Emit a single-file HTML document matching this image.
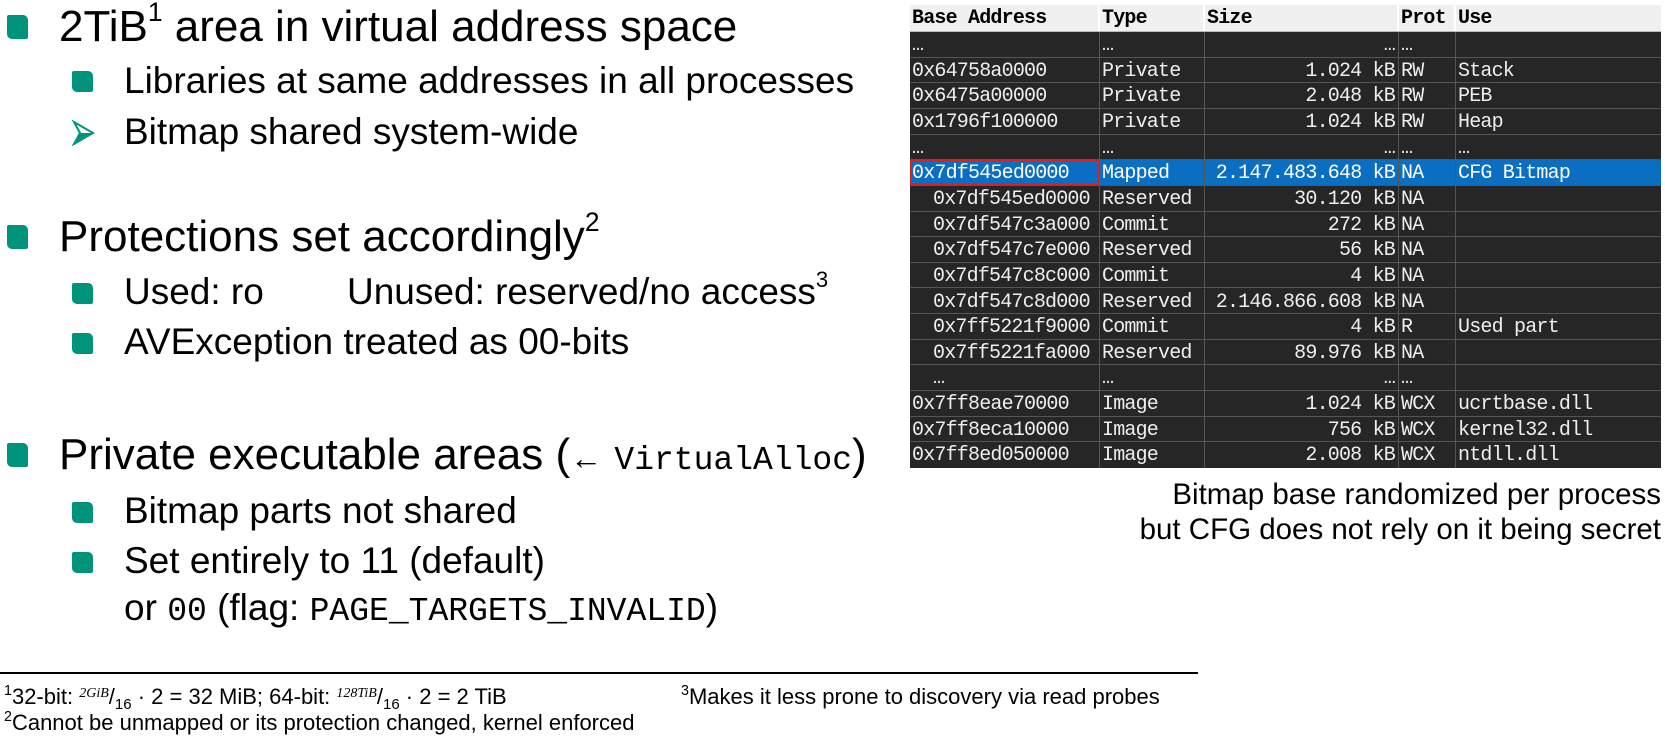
<!DOCTYPE html>
<html><head><meta charset="utf-8"><style>
body{margin:0;width:1665px;height:737px;background:#fff;position:relative;overflow:hidden;font-family:"Liberation Sans",Arial,sans-serif;color:#000}
.t{position:absolute;white-space:nowrap;line-height:1}
.m{font-size:44px}
.s{font-size:37px}
.b{position:absolute;background:#00937c;border-radius:2px 5px 2px 5px}
.mono{font-family:"Liberation Mono",monospace}
sup{font-size:60%;vertical-align:0;position:relative;top:-0.75em}
#tb{position:absolute;left:910px;top:5px;width:751px;height:463px;background:#262626}
.r{position:absolute;left:0;width:751px;height:25.65px;border-bottom:1px solid #555;box-sizing:border-box;font-family:"Liberation Mono",monospace;font-size:20px;letter-spacing:-0.8px;color:#eee;line-height:27px}
.r span{position:absolute;top:0;height:100%;box-sizing:border-box;border-right:1px solid #555;padding-left:2px;overflow:hidden;white-space:nowrap}
.c1{left:0;width:190px}.c2{left:190px;width:105px}.c3{left:295px;width:194px;text-align:right;padding-right:3px;padding-left:0!important}.c4{left:489px;width:57px}.c5{left:546px;width:205px;border-right:none!important}
.hd{background:#f0f0f0;color:#000;font-weight:bold;height:27px;top:0;border-bottom:1px solid #bbb}
.hd span{border-right:2px solid #fff}
.sel{background:#0a6fc2;color:#fff}
.i{padding-left:23px!important}
.fn{font-size:22px;position:absolute;white-space:nowrap;line-height:1}
.fn sup{font-size:65%;top:-0.6em}
</style></head><body>

<div class="b" style="left:7px;top:15px;width:21px;height:24px"></div>
<div class="t m" style="left:59px;top:5px">2TiB<sup>1</sup> area in virtual address space</div>
<div class="b" style="left:72px;top:71px;width:21px;height:21px"></div>
<div class="t s" style="left:124px;top:62px">Libraries at same addresses in all processes</div>
<svg style="position:absolute;left:72px;top:120px" width="24" height="26" viewBox="0 0 24 26"><path d="M2 2 L21 13 L2 24 L8 13 Z" fill="#fff" stroke="#00937c" stroke-width="2"/><path d="M8 13 L21 13 L2 24 Z" fill="#00937c"/></svg>
<div class="t s" style="left:124px;top:113px">Bitmap shared system-wide</div>

<div class="b" style="left:7px;top:225px;width:21px;height:24px"></div>
<div class="t m" style="left:59px;top:215px">Protections set accordingly<sup>2</sup></div>
<div class="b" style="left:72px;top:283px;width:21px;height:21px"></div>
<div class="t s" style="left:124px;top:273px">Used: ro</div>
<div class="t s" style="left:347px;top:273px">Unused: reserved/no access<sup>3</sup></div>
<div class="b" style="left:72px;top:333px;width:21px;height:21px"></div>
<div class="t s" style="left:124px;top:323px">AVException treated as 00-bits</div>

<div class="b" style="left:7px;top:443px;width:21px;height:24px"></div>
<div class="t m" style="left:59px;top:433px">Private executable areas (<span style="font-size:32px">←</span> <span class="mono" style="font-size:33px">VirtualAlloc</span>)</div>
<div class="b" style="left:72px;top:502px;width:21px;height:21px"></div>
<div class="t s" style="left:124px;top:492px">Bitmap parts not shared</div>
<div class="b" style="left:72px;top:552px;width:21px;height:21px"></div>
<div class="t s" style="left:124px;top:542px">Set entirely to 11 (default)</div>
<div class="t s" style="left:124px;top:589px">or <span class="mono" style="font-size:33px">00</span> (flag: <span class="mono" style="font-size:33px">PAGE_TARGETS_INVALID</span>)</div>

<div id="tb">
<div class="r hd"><span class="c1">Base Address</span><span class="c2">Type</span><span class="c3" style="text-align:left;padding-left:2px!important">Size</span><span class="c4">Prot</span><span class="c5">Use</span></div>
<div class="r" style="top:27px"><span class="c1">…</span><span class="c2">…</span><span class="c3">…</span><span class="c4">…</span><span class="c5"></span></div>
<div class="r" style="top:52.65px"><span class="c1">0x64758a0000</span><span class="c2">Private</span><span class="c3">1.024 kB</span><span class="c4">RW</span><span class="c5">Stack</span></div>
<div class="r" style="top:78.3px"><span class="c1">0x6475a00000</span><span class="c2">Private</span><span class="c3">2.048 kB</span><span class="c4">RW</span><span class="c5">PEB</span></div>
<div class="r" style="top:103.95px"><span class="c1">0x1796f100000</span><span class="c2">Private</span><span class="c3">1.024 kB</span><span class="c4">RW</span><span class="c5">Heap</span></div>
<div class="r" style="top:129.6px"><span class="c1">…</span><span class="c2">…</span><span class="c3">…</span><span class="c4">…</span><span class="c5">…</span></div>
<div class="r sel" style="top:155.25px"><span class="c1" style="outline:2px solid #e02020;outline-offset:-2px">0x7df545ed0000</span><span class="c2">Mapped</span><span class="c3">2.147.483.648 kB</span><span class="c4">NA</span><span class="c5">CFG Bitmap</span></div>
<div class="r" style="top:180.9px"><span class="c1 i">0x7df545ed0000</span><span class="c2">Reserved</span><span class="c3">30.120 kB</span><span class="c4">NA</span><span class="c5"></span></div>
<div class="r" style="top:206.55px"><span class="c1 i">0x7df547c3a000</span><span class="c2">Commit</span><span class="c3">272 kB</span><span class="c4">NA</span><span class="c5"></span></div>
<div class="r" style="top:232.2px"><span class="c1 i">0x7df547c7e000</span><span class="c2">Reserved</span><span class="c3">56 kB</span><span class="c4">NA</span><span class="c5"></span></div>
<div class="r" style="top:257.85px"><span class="c1 i">0x7df547c8c000</span><span class="c2">Commit</span><span class="c3">4 kB</span><span class="c4">NA</span><span class="c5"></span></div>
<div class="r" style="top:283.5px"><span class="c1 i">0x7df547c8d000</span><span class="c2">Reserved</span><span class="c3">2.146.866.608 kB</span><span class="c4">NA</span><span class="c5"></span></div>
<div class="r" style="top:309.15px"><span class="c1 i">0x7ff5221f9000</span><span class="c2">Commit</span><span class="c3">4 kB</span><span class="c4">R</span><span class="c5">Used part</span></div>
<div class="r" style="top:334.8px"><span class="c1 i">0x7ff5221fa000</span><span class="c2">Reserved</span><span class="c3">89.976 kB</span><span class="c4">NA</span><span class="c5"></span></div>
<div class="r" style="top:360.45px"><span class="c1 i">…</span><span class="c2">…</span><span class="c3">…</span><span class="c4">…</span><span class="c5"></span></div>
<div class="r" style="top:386.1px"><span class="c1">0x7ff8eae70000</span><span class="c2">Image</span><span class="c3">1.024 kB</span><span class="c4">WCX</span><span class="c5">ucrtbase.dll</span></div>
<div class="r" style="top:411.75px"><span class="c1">0x7ff8eca10000</span><span class="c2">Image</span><span class="c3">756 kB</span><span class="c4">WCX</span><span class="c5">kernel32.dll</span></div>
<div class="r" style="top:437.4px;border-bottom:none"><span class="c1">0x7ff8ed050000</span><span class="c2">Image</span><span class="c3">2.008 kB</span><span class="c4">WCX</span><span class="c5">ntdll.dll</span></div>
</div>

<div class="t" style="right:4px;top:480px;font-size:29.5px;text-align:right">Bitmap base randomized per process</div>
<div class="t" style="right:4px;top:515px;font-size:29.5px;text-align:right">but CFG does not rely on it being secret</div>

<div style="position:absolute;left:0;top:672px;width:1198px;height:1.5px;background:#000"></div>
<div class="fn" style="left:4px;top:686px"><sup>1</sup>32-bit: <i style="font-family:'Liberation Serif',serif;font-size:14px;position:relative;top:-7px">2GiB</i>/<span style="font-size:15px;position:relative;top:5px">16</span> · 2 = 32 MiB; 64-bit: <i style="font-family:'Liberation Serif',serif;font-size:14px;position:relative;top:-7px">128TiB</i>/<span style="font-size:15px;position:relative;top:5px">16</span> · 2 = 2 TiB</div>
<div class="fn" style="left:4px;top:712px"><sup>2</sup>Cannot be unmapped or its protection changed, kernel enforced</div>
<div class="fn" style="left:681px;top:686px"><sup>3</sup>Makes it less prone to discovery via read probes</div>
</body></html>
